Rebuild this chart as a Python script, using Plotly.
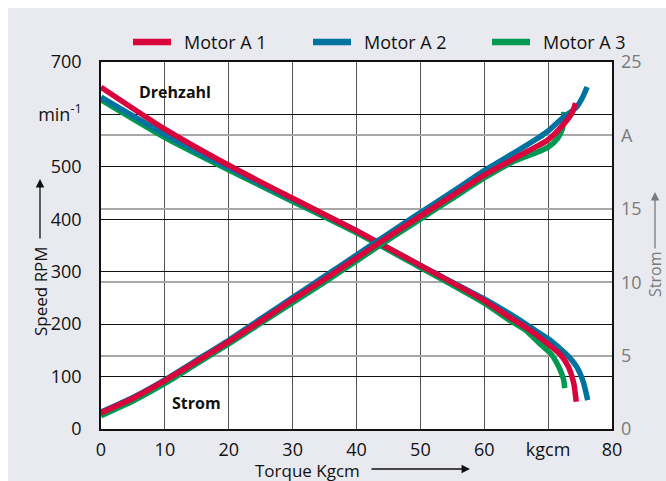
import plotly.graph_objects as go

# Torque (kgcm) vs. speed (RPM) for each motor
speed_torque_a1 = [0, 10, 20, 30, 40, 50, 60, 64, 67, 70, 72, 73.2, 74, 74.4]
speed_rpm_a1 = [652, 572, 503, 440, 378, 312, 245, 213, 190, 162, 141, 118, 88, 52]
speed_torque_a2 = [0, 10, 20, 30, 40, 50, 60, 65, 68, 70, 72, 73, 74.5, 75.5, 76.2]
speed_rpm_a2 = [633, 562, 498, 438, 378, 312, 248, 212, 188, 172, 152, 141, 118, 90, 55]
speed_torque_a3 = [0, 10, 20, 30, 40, 50, 60, 64, 66.5, 68.5, 70.6, 71.8, 72.4, 72.6]
speed_rpm_a3 = [628, 556, 494, 434, 374, 308, 240, 207, 188, 165, 141, 115, 95, 78]

# Torque (kgcm) vs. current (A) for each motor
cur_torque_a1 = [0, 5, 10, 15, 20, 25, 30, 35, 40, 45, 50, 55, 60, 65, 68, 70, 72.3, 73.7, 74.3]
cur_amp_a1 = [1.1, 2.1, 3.3, 4.6, 5.95, 7.35, 8.8, 10.2, 11.65, 13.1, 14.5, 15.9, 17.3, 18.5, 19.2, 19.7, 20.7, 21.5, 22.2]
cur_torque_a2 = [0, 5, 10, 15, 20, 25, 30, 35, 40, 45, 50, 55, 60, 65, 68, 70, 72.3, 74.4, 75.4, 76.1]
cur_amp_a2 = [1.15, 2.15, 3.35, 4.7, 6.05, 7.5, 8.95, 10.4, 11.85, 13.3, 14.75, 16.15, 17.6, 18.9, 19.7, 20.3, 21.2, 21.9, 22.6, 23.3]
cur_torque_a3 = [0, 5, 10, 15, 20, 25, 30, 35, 40, 45, 50, 55, 60, 65, 68, 70, 71.5, 72.2, 72.4, 72.45]
cur_amp_a3 = [0.9, 1.9, 3.1, 4.45, 5.8, 7.2, 8.6, 10.0, 11.45, 12.9, 14.3, 15.7, 17.1, 18.3, 18.8, 19.2, 19.8, 20.4, 21.0, 21.6]

motor_names = ["Motor A 1", "Motor A 2", "Motor A 3"]
motor_colors = ["#d9043c", "#00729f", "#00994f"]

x_ticks = [0, 10, 20, 30, 40, 50, 60, 70, 80]
x_ticktext = ["0", "10", "20", "30", "40", "50", "60", "kgcm", "80"]
y_ticks = [0, 100, 200, 300, 400, 500, 600, 700]
y_ticktext = ["0", "100", "200", "300", "400", "500", "min<sup>-1</sup>", "700"]
y2_ticks = [0, 5, 10, 15, 20, 25]
y2_ticktext = ["0", "5", "10", "15", "A", "25"]

FONT = "Open Sans"
W, H = 666, 481
L, R, T, B = 101, 54, 62, 52
PW, PH = W - L - R, H - T - B


def px(xp):
    return (xp - L) / PW


def py(yp):
    return (H - B - yp) / PH


speed = [(speed_torque_a1, speed_rpm_a1), (speed_torque_a2, speed_rpm_a2), (speed_torque_a3, speed_rpm_a3)]
current = [(cur_torque_a1, cur_amp_a1), (cur_torque_a2, cur_amp_a2), (cur_torque_a3, cur_amp_a3)]

fig = go.Figure()
# motor 3 first, motor 1 last so the red curves sit on top
for i in [2, 1, 0]:
    sx, sy = speed[i]
    cx, cy = current[i]
    fig.add_trace(go.Scatter(x=sx, y=sy, mode="lines", name=motor_names[i],
                             line=dict(color=motor_colors[i], width=5.5, shape="spline", smoothing=0.6),
                             showlegend=False))
    fig.add_trace(go.Scatter(x=cx, y=cy, mode="lines", name=motor_names[i], yaxis="y2",
                             line=dict(color=motor_colors[i], width=5.5, shape="spline", smoothing=0.6),
                             showlegend=False))

# white strips along the top and left page edge
shapes = [
    dict(type="rect", xref="paper", yref="paper", x0=px(-5), x1=px(W + 5), y0=py(8), y1=py(-5),
         fillcolor="white", line=dict(width=0), layer="above"),
    dict(type="rect", xref="paper", yref="paper", x0=px(-5), x1=px(8), y0=py(H + 5), y1=py(-5),
         fillcolor="white", line=dict(width=0), layer="above"),
]

annotations = []

# legend: coloured bar + label per motor
legend_x = [133, 313, 492]
for name, color, lx in zip(motor_names, motor_colors, legend_x):
    shapes.append(dict(type="line", xref="paper", yref="paper", x0=px(lx), x1=px(lx + 38),
                       y0=py(42), y1=py(42), line=dict(color=color, width=6.5), layer="above"))
    annotations.append(dict(text=name, x=px(lx + 49), y=py(42), xref="paper", yref="paper",
                            xanchor="left", yanchor="middle", showarrow=False,
                            font=dict(family=FONT, size=18, color="#111")))


def label(text, x, y, size=17, color="#111", angle=0):
    return dict(text=text, x=px(x), y=py(y), xref="paper", yref="paper", textangle=angle,
                xanchor="center", yanchor="middle", showarrow=False,
                font=dict(family=FONT, size=size, color=color))


def arrow(x, y, ax, ay, color="#111"):
    return dict(text="", x=px(x), y=py(y), xref="paper", yref="paper", ax=ax, ay=ay,
                xanchor="center", yanchor="middle", showarrow=True, arrowhead=2,
                arrowsize=1.3, arrowwidth=1.3, arrowcolor=color)


annotations += [
    label("<b>Drehzahl</b>", 175, 92, size=16),
    label("<b>Strom</b>", 196, 403, size=16),
    label("Speed RPM", 40, 291, angle=-90),
    arrow(40, 179, 0, 61),
    label("Torque Kgcm", 307, 470),
    arrow(470, 469, -100, 0),
    label("Strom", 655, 275, size=16, color="#7a7a7a", angle=-90),
    arrow(655, 192, 0, 58, color="#7a7a7a"),
]

fig.update_layout(
    width=W, height=H,
    margin=dict(l=L, r=R, t=T, b=B),
    paper_bgcolor="#e9eaef",
    plot_bgcolor="white",
    font=dict(family=FONT, size=18, color="#111"),
    showlegend=False,
    shapes=shapes,
    annotations=annotations,
    xaxis=dict(range=[0, 80], tickvals=x_ticks, ticktext=x_ticktext, showgrid=True,
               gridcolor="#555", gridwidth=1.2, zeroline=False, showline=True, linecolor="#111",
               linewidth=1.5, mirror=True, ticks="", ticklabelstandoff=4,
               tickfont=dict(family=FONT, size=18, color="#111")),
    yaxis=dict(range=[0, 700], tickvals=y_ticks, ticktext=y_ticktext, showgrid=True,
               gridcolor="#111", gridwidth=1.2, zeroline=False, showline=True, linecolor="#111",
               linewidth=1.5, mirror=True, ticks="", ticklabelstandoff=14,
               tickfont=dict(family=FONT, size=18, color="#111")),
    yaxis2=dict(range=[0, 25], tickvals=y2_ticks, ticktext=y2_ticktext, overlaying="y", side="right",
                showgrid=True, gridcolor="#a8a8a8", gridwidth=1.5, zeroline=False, showline=False,
                ticks="", ticklabelstandoff=8,
                tickfont=dict(family=FONT, size=18, color="#7a7a7a")),
)

fig.write_html("out.html")
